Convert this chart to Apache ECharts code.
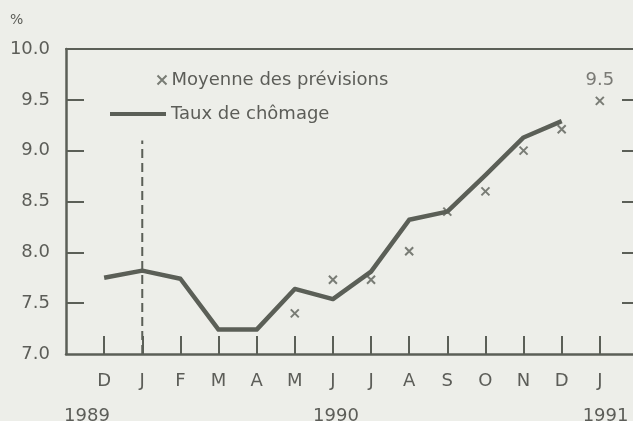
<!DOCTYPE html>
<html>
<head>
<meta charset="utf-8">
<script src="https://cdn.jsdelivr.net/npm/echarts@6/dist/echarts.min.js"></script>
<style>
  html, body { margin: 0; padding: 0; background: #edeee9; }
  #chart { width: 633px; height: 421px; }
</style>
</head>
<body>
<div id="chart"></div>
<script>
// months from Dec 1989 to Jan 1991
const months = ['D', 'J', 'F', 'M', 'A', 'M', 'J', 'J', 'A', 'S', 'O', 'N', 'D', 'J'];
const yearLabels = ['1989', '1990', '1991'];
const yearPos = [-0.45, 6.08, 13.15];

// unemployment rate, D 1989 .. D 1990
const tauxChomage = [7.75, 7.82, 7.74, 7.24, 7.24, 7.64, 7.54, 7.81, 8.32, 8.40, 8.76, 9.13, 9.29];
// average of forecasts, M 1990 .. J 1991 (index 5..13)
const previsionsStart = 5;
const previsions = [7.40, 7.73, 7.73, 8.01, 8.40, 8.60, 9.00, 9.21, 9.49];

const yTicks = [7.0, 7.5, 8.0, 8.5, 9.0, 9.5, 10.0];
const dashedLine = [[1, 7.0], [1, 9.1]];

const ink = '#5b5f57';
const textColor = '#5c5d58';
const font = 'DejaVu Sans, Liberation Sans, sans-serif';
const fs = 18;

const chart = echarts.init(document.getElementById('chart'));

const xMin = -1, xMax = 13.87;

const option = {
  backgroundColor: '#edeee9',
  animation: false,
  textStyle: { fontFamily: font },
  grid: { left: 66, right: 0, top: 49, bottom: 67, outerBoundsMode: 'none' },
  graphic: [
    { type: 'text', left: 10, top: 13, style: { text: '%', fontSize: 14, fill: textColor, fontFamily: font } }
  ],
  legend: [
    {
      data: ['Moyenne des prévisions'],
      left: 155, top: 71, padding: 0,
      itemWidth: 9, itemHeight: 9, itemGap: 7,
      textStyle: { fontSize: fs, color: textColor, fontFamily: font }
    },
    {
      data: ['Taux de chômage'],
      left: 110, top: 105, padding: 0,
      itemWidth: 56, itemHeight: 4, itemGap: 6,
      icon: 'rect',
      textStyle: { fontSize: fs, color: textColor, fontFamily: font }
    }
  ],
  xAxis: [
    {
      type: 'value', min: xMin, max: xMax, position: 'bottom',
      splitLine: { show: false },
      axisLine: { show: true, onZero: false, lineStyle: { color: ink, width: 2.5 } },
      axisTick: { show: true, inside: true, length: 18, customValues: months.map((m, i) => i), lineStyle: { color: ink, width: 2 } },
      axisLabel: {
        customValues: months.map((m, i) => i),
        formatter: v => months[Math.round(v)],
        fontSize: fs, color: textColor, margin: 18, fontFamily: font
      }
    },
    {
      type: 'value', min: xMin, max: xMax, position: 'bottom', offset: 35,
      splitLine: { show: false },
      axisLine: { show: false, onZero: false },
      axisTick: { show: false },
      axisLabel: {
        customValues: yearPos,
        formatter: v => yearLabels[yearPos.indexOf(v)],
        fontSize: fs, color: textColor, margin: 18, fontFamily: font
      }
    },
    {
      type: 'value', min: xMin, max: xMax, position: 'top',
      splitLine: { show: false },
      axisLine: { show: true, onZero: false, lineStyle: { color: ink, width: 2 } },
      axisTick: { show: false },
      axisLabel: { show: false }
    }
  ],
  yAxis: [
    {
      type: 'value', min: 7, max: 10, interval: 0.5, position: 'left',
      splitLine: { show: false },
      axisLine: { show: true, onZero: false, lineStyle: { color: ink, width: 2.5 } },
      axisTick: { show: true, inside: true, length: 18, customValues: yTicks.slice(1, -1), lineStyle: { color: ink, width: 2 } },
      axisLabel: {
        customValues: yTicks,
        formatter: v => v.toFixed(1),
        fontSize: fs, color: textColor, margin: 16, fontFamily: font
      }
    },
    {
      type: 'value', min: 7, max: 10, interval: 0.5, position: 'right',
      splitLine: { show: false },
      axisLine: { show: false, onZero: false },
      axisTick: { show: true, inside: true, length: 11, customValues: yTicks.slice(1, -1), lineStyle: { color: ink, width: 2 } },
      axisLabel: { show: false }
    }
  ],
  series: [
    {
      name: 'Taux de chômage',
      type: 'line',
      data: tauxChomage.map((v, i) => [i, v]),
      showSymbol: false,
      symbol: 'none',
      lineStyle: { color: ink, width: 4.5, join: 'round' },
      itemStyle: { color: ink },
      z: 3
    },
    {
      name: 'Moyenne des prévisions',
      type: 'scatter',
      symbol: 'path://M0,0L10,10M10,0L0,10',
      symbolSize: 8,
      itemStyle: { color: 'none', borderColor: ink, borderWidth: 2 },
      data: previsions.map((v, i) => {
        const pt = { value: [i + previsionsStart, v] };
        if (i === previsions.length - 1) {
          pt.label = {
            show: true, position: 'top', distance: 5,
            formatter: v.toFixed(1),
            fontSize: fs, color: textColor, fontFamily: font
          };
        }
        return pt;
      }),
      z: 4
    },
    {
      name: 'dashed',
      type: 'line',
      data: dashedLine,
      symbol: 'none',
      lineStyle: { color: ink, width: 2, type: [9, 5] },
      z: 2
    }
  ]
};

chart.setOption(option);
</script>
</body>
</html>
